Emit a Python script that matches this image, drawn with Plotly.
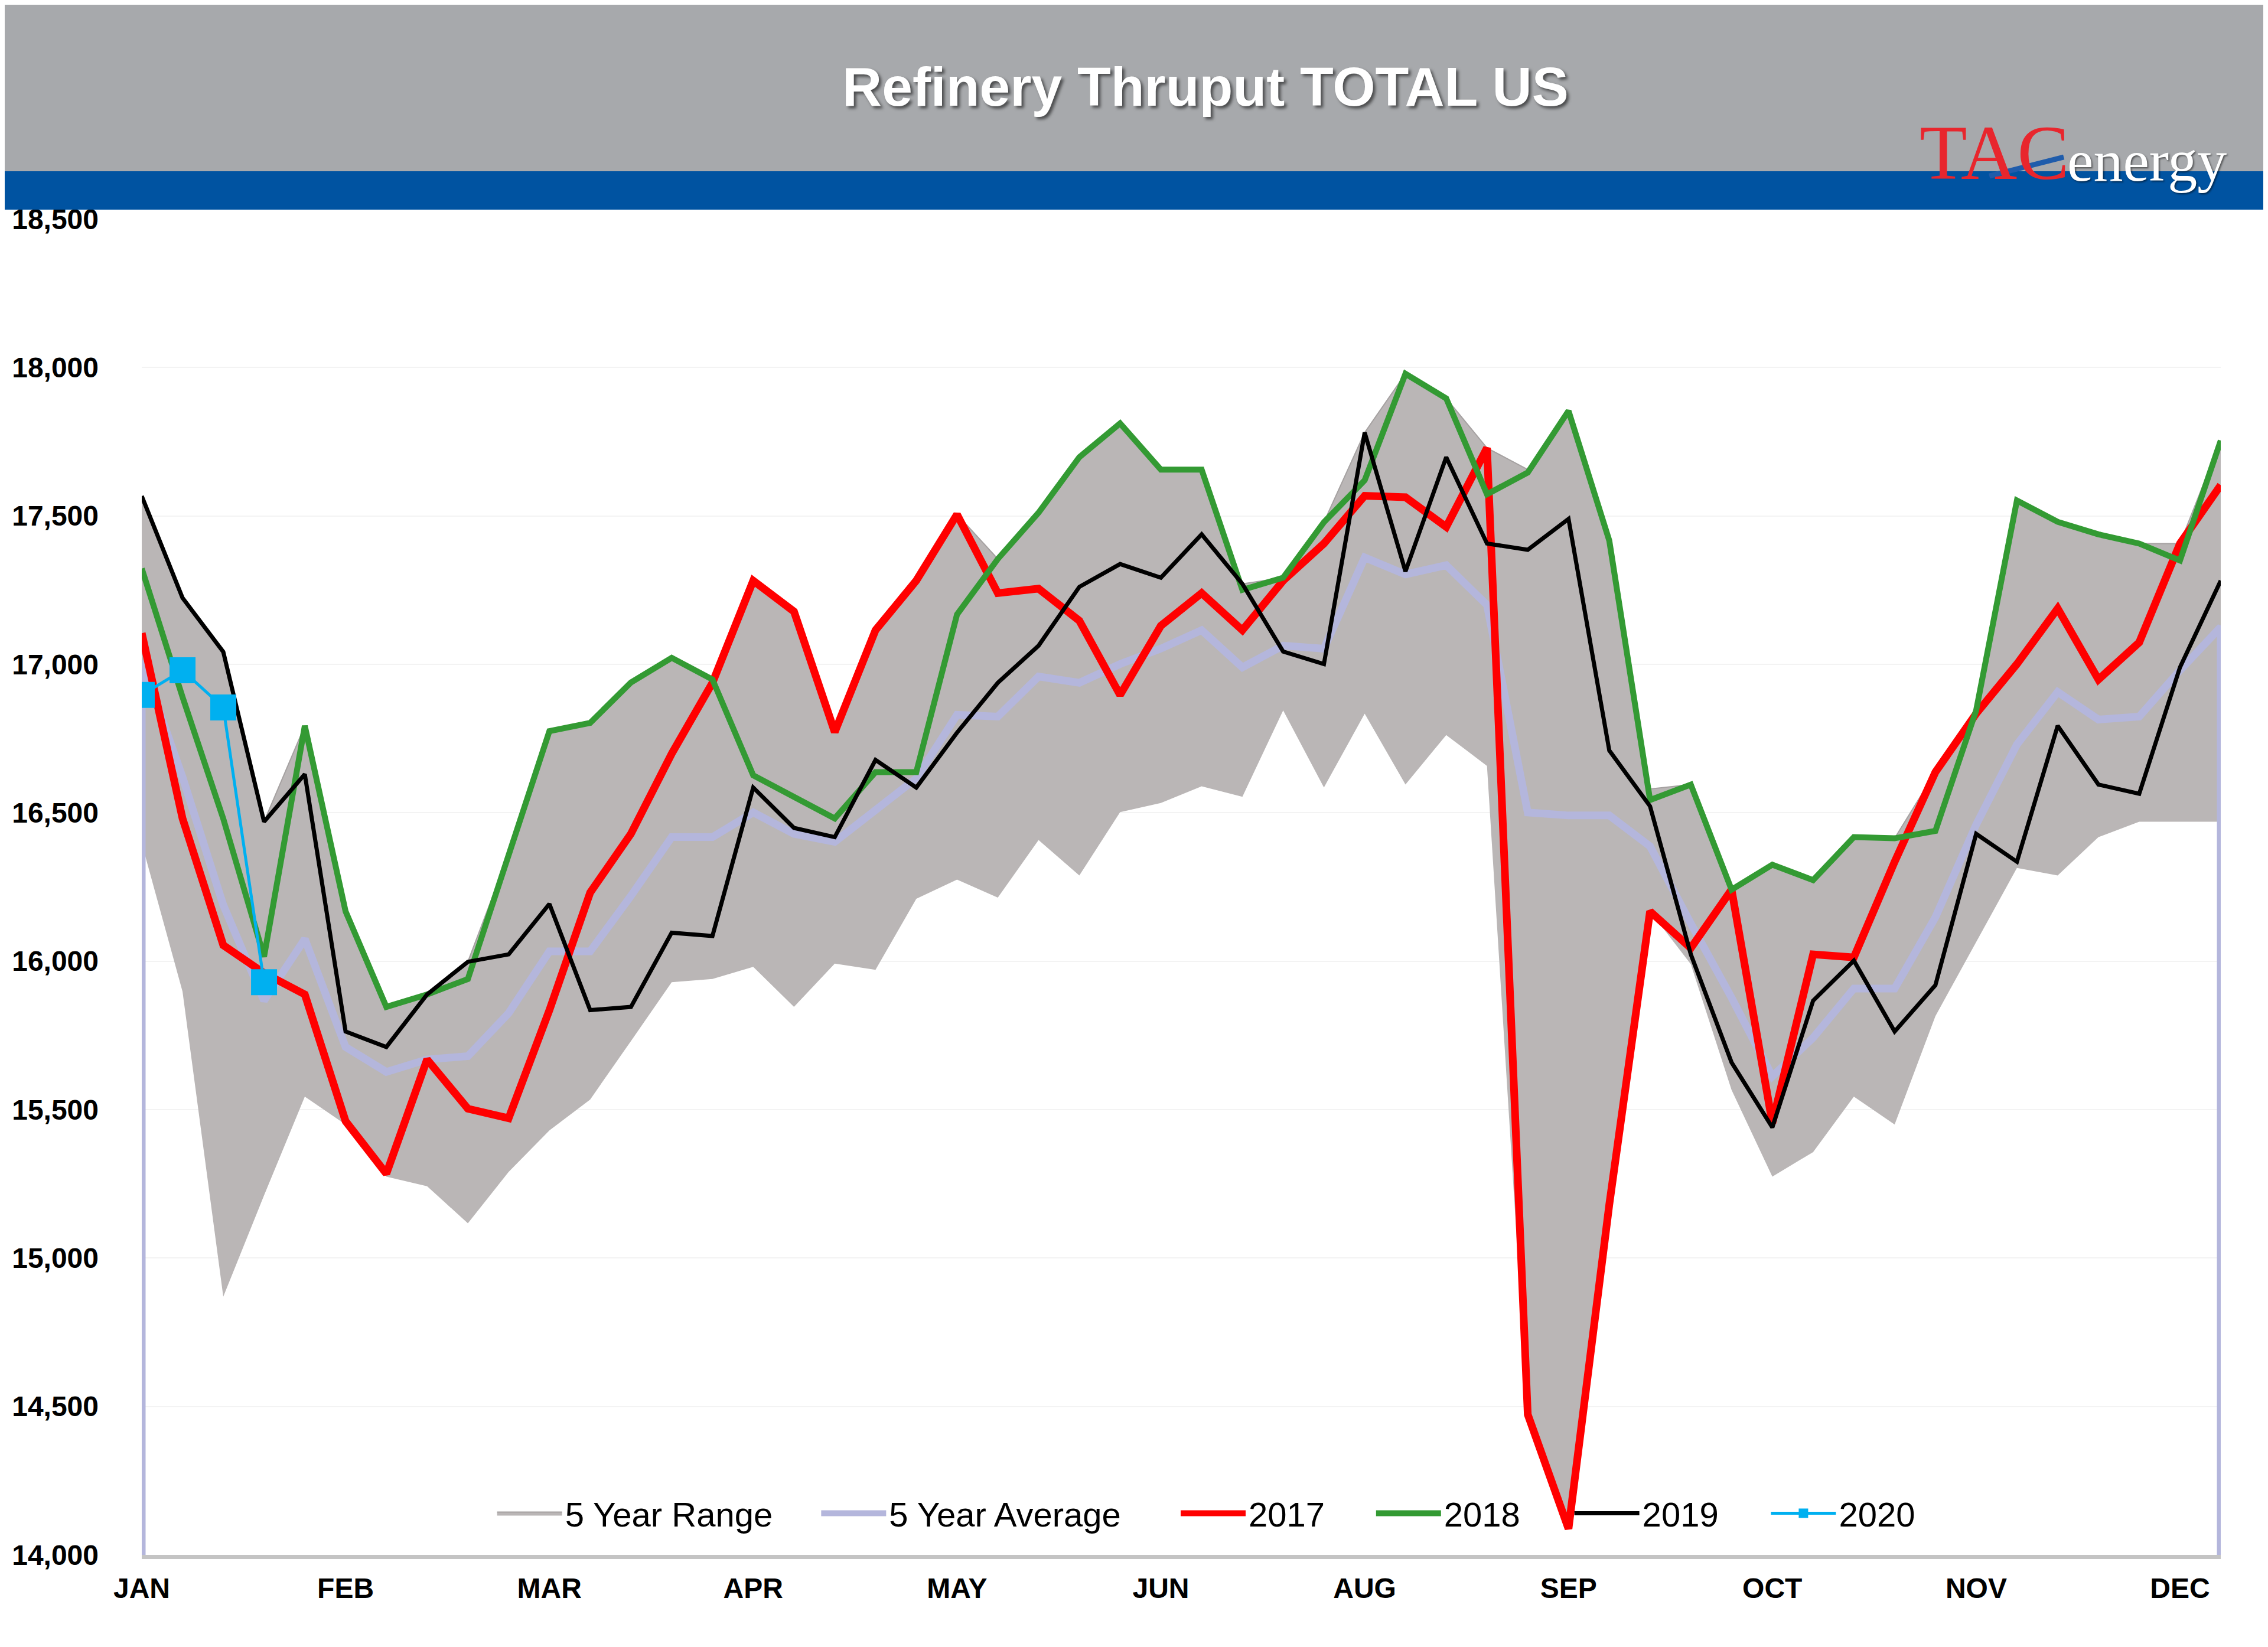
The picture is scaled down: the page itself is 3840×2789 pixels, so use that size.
import plotly.graph_objects as go

# ---------------- data ----------------
weeks = list(range(52))
tick_pos = [0, 5, 10, 15, 20, 25, 30, 35, 40, 45, 50]
tick_text = ["JAN", "FEB", "MAR", "APR", "MAY", "JUN", "AUG", "SEP", "OCT", "NOV", "DEC"]
y_ticks = [14000, 14500, 15000, 15500, 16000, 16500, 17000, 17500, 18000, 18500]

range_low = [16397, 15898, 14870, 15211, 15544, 15450, 15274, 15242, 15117, 15290,
             15430, 15534, 15731, 15929, 15940, 15981, 15846, 15992, 15971, 16210,
             16275, 16214, 16408, 16289, 16502, 16533, 16589, 16554, 16845, 16585,
             16834, 16595, 16762, 16658, 14473, 14088, 15180, 16168, 15990, 15566,
             15274, 15357, 15544, 15450, 15815, 16065, 16314, 16289, 16418, 16470,
             16470, 16470]
range_high = [17560, 17224, 17042, 16470, 16793, 16168, 15846, 15888, 15998, 16360,
              16775, 16803, 16939, 17022, 16949, 17282, 17178, 16772, 17115, 17282,
              17505, 17355, 17511, 17698, 17812, 17656, 17656, 17271, 17292, 17479,
              17781, 17979, 17896, 17729, 17656, 17854, 17417, 16580, 16595, 16241,
              16325, 16273, 16418, 16414, 16637, 16845, 17552, 17480, 17438, 17407,
              17407, 17754]
avg5 = [17011, 16620, 16189, 15867, 16075, 15711, 15627, 15669, 15680, 15825,
        16033, 16033, 16220, 16418, 16418, 16501, 16429, 16402, 16512, 16616,
        16830, 16824, 16959, 16938, 17001, 17053, 17115, 16990, 17063, 17053,
        17360, 17303, 17334, 17200, 16501, 16491, 16491, 16387, 16127, 15877,
        15612, 15742, 15908, 15908, 16148, 16460, 16730, 16907, 16814, 16824,
        16980, 17126]
y2017 = [17105, 16481, 16054, 15960, 15888, 15461, 15284, 15669, 15503, 15471,
         15835, 16231, 16429, 16699, 16938, 17282, 17178, 16772, 17115, 17282,
         17505, 17240, 17255, 17147, 16897, 17130, 17240, 17115, 17282, 17407,
         17568, 17563, 17463, 17729, 14473, 14088, 15180, 16168, 16044, 16241,
         15455, 16023, 16013, 16335, 16637, 16834, 17001, 17188, 16949, 17074,
         17407, 17604]
y2018 = [17323, 16890, 16480, 16015, 16793, 16168, 15846, 15888, 15940, 16360,
         16775, 16803, 16939, 17022, 16949, 16626, 16553, 16481, 16637, 16637,
         17168, 17355, 17511, 17698, 17812, 17656, 17656, 17251, 17292, 17479,
         17620, 17979, 17896, 17573, 17646, 17854, 17417, 16543, 16595, 16241,
         16325, 16273, 16418, 16414, 16439, 16845, 17552, 17480, 17438, 17407,
         17350, 17754]
y2019 = [17567, 17224, 17042, 16470, 16630, 15763, 15711, 15888, 15998, 16023,
         16193, 15835, 15846, 16096, 16085, 16585, 16449, 16418, 16678, 16585,
         16770, 16938, 17063, 17261, 17338, 17292, 17438, 17271, 17043, 17001,
         17781, 17313, 17698, 17407, 17386, 17490, 16710, 16522, 16023, 15659,
         15440, 15867, 16002, 15763, 15919, 16429, 16335, 16793, 16595, 16564,
         16990, 17282]
weeks2020 = [0, 1, 2, 3]
y2020 = [16897, 16980, 16855, 15929]

Y_MIN, Y_MAX = 14000, 18500

# ---------------- layout geometry ----------------
OFF = 8                      # default page body margin
W, H = 3840 - OFF, 2789 - OFF
L, R, T, B = 238 - OFF, 80, 371 - OFF, 156
PW, PH = W - L - R, H - T - B


def px_x(px):
    """page pixel x -> paper x"""
    return (px - OFF - L) / PW


def px_y(py):
    """page pixel y -> paper y"""
    return 1 - (py - OFF - T) / PH


FONT = "Liberation Sans, Arial, sans-serif"
SERIF = "Liberation Serif, Times New Roman, serif"

fig = go.Figure()

fig.add_trace(go.Scatter(x=weeks, y=range_low, mode="lines",
                         line=dict(width=0, color="rgba(0,0,0,0)"),
                         showlegend=False, hoverinfo="skip"))
fig.add_trace(go.Scatter(x=weeks, y=range_high, mode="lines", name="5 Year Range",
                         fill="tonexty", fillcolor="rgb(186,182,182)",
                         line=dict(width=2, color="rgb(165,161,161)"),
                         legend="legend"))
fig.add_trace(go.Scatter(x=[weeks[0]] + weeks + [weeks[-1]],
                         y=[Y_MIN] + avg5 + [Y_MIN], mode="lines",
                         name="5 Year Average",
                         line=dict(width=13, color="#b4b6dc"),
                         legend="legend2"))
fig.add_trace(go.Scatter(x=weeks, y=y2017, mode="lines", name="2017",
                         line=dict(width=13, color="#ff0000"),
                         legend="legend3"))
fig.add_trace(go.Scatter(x=weeks, y=y2018, mode="lines", name="2018",
                         line=dict(width=10, color="#339a33"),
                         legend="legend4"))
fig.add_trace(go.Scatter(x=weeks, y=y2019, mode="lines", name="2019",
                         line=dict(width=7, color="#000000"),
                         legend="legend5"))
fig.add_trace(go.Scatter(x=weeks2020, y=y2020, mode="lines+markers", name="2020",
                         line=dict(width=5, color="#00b0f0"),
                         marker=dict(symbol="square", size=44, color="#00b0f0"),
                         legend="legend6"))

shapes = [
    # grey header band
    dict(type="rect", xref="paper", yref="paper", layer="above",
         x0=px_x(0), x1=px_x(3840), y0=px_y(290), y1=px_y(4),
         fillcolor="#a7a9ac", line=dict(width=0)),
    # blue band
    dict(type="rect", xref="paper", yref="paper", layer="above",
         x0=px_x(0), x1=px_x(3840), y0=px_y(355), y1=px_y(290),
         fillcolor="#0053a1", line=dict(width=0)),
    # logo slash
    dict(type="line", xref="paper", yref="paper", layer="above",
         x0=px_x(3368), x1=px_x(3494), y0=px_y(298), y1=px_y(266),
         line=dict(color="#1f5cab", width=9)),
]

annotations = [
    dict(text="<b>Refinery Thruput TOTAL US</b>", xref="paper", yref="paper",
         x=px_x(2040), y=px_y(147), xanchor="center", yanchor="middle",
         showarrow=False,
         font=dict(family=FONT, size=93, color="white",
                   shadow="4px 4px 5px rgba(0,0,0,0.55)")),
    dict(text="TAC", xref="paper", yref="paper",
         x=px_x(3505), y=px_y(258), xanchor="right", yanchor="middle",
         showarrow=False,
         font=dict(family=SERIF, size=132, color="#e8262d")),
    dict(text="energy", xref="paper", yref="paper",
         x=px_x(3498), y=px_y(272), xanchor="left", yanchor="middle",
         showarrow=False,
         font=dict(family=SERIF, size=100, color="white",
                   shadow="2px 2px 3px rgba(0,0,0,0.5)")),
]

# legend entry start positions (page px)
legend_starts = [840, 1389, 1998, 2329, 2665, 2998]
legend_names = ["legend", "legend2", "legend3", "legend4", "legend5", "legend6"]
legend_layout = {}
for nm, sx in zip(legend_names, legend_starts):
    legend_layout[nm] = dict(orientation="h", x=px_x(sx - 5), xanchor="left",
                             y=0.031, yanchor="middle",
                             bgcolor="rgba(0,0,0,0)",
                             font=dict(family=FONT, size=58, color="black"),
                             itemwidth=110)

fig.update_layout(
    width=W, height=H,
    margin=dict(l=L, r=R, t=T, b=B, pad=0),
    paper_bgcolor="white", plot_bgcolor="white",
    font=dict(family=FONT, color="black"),
    shapes=shapes, annotations=annotations,
    showlegend=True,
    xaxis=dict(range=[0, 51], tickvals=tick_pos, ticktext=tick_text,
               showgrid=False, zeroline=False, showline=True,
               linecolor="#c4c4c4", linewidth=7, ticks="",
               ticklabelstandoff=8,
               tickfont=dict(family=FONT, size=48, color="black", weight="bold")),
    yaxis=dict(range=[Y_MIN, Y_MAX], tickvals=y_ticks, tickformat=",",
               showgrid=True, gridcolor="#f3f3f3", gridwidth=2,
               zeroline=False, showline=False, ticks="",
               ticklabelstandoff=72,
               tickfont=dict(family=FONT, size=48, color="black", weight="bold")),
    **legend_layout,
)

fig.write_html("out.html")
